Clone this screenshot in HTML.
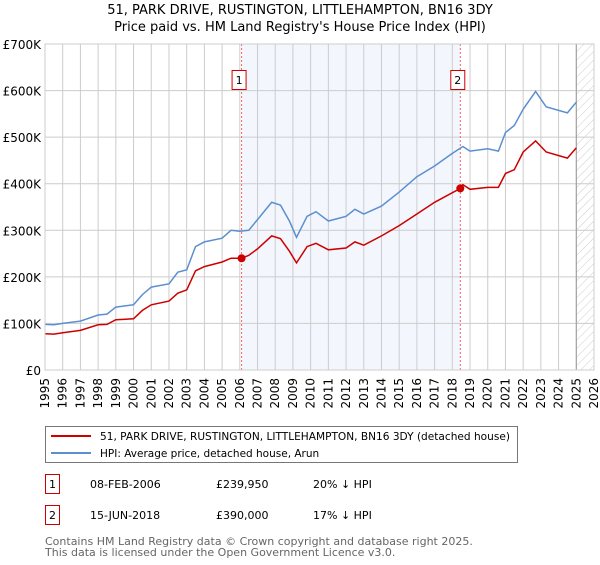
<!DOCTYPE html>
<html><head><meta charset="utf-8"><style>
body{margin:0;background:#fff;font-family:"Liberation Sans","DejaVu Sans",sans-serif;}
</style></head><body>
<svg width="600" height="560" xmlns="http://www.w3.org/2000/svg" font-family="DejaVu Sans, Liberation Sans, sans-serif">
<defs><pattern id="hatch" width="6" height="6" patternUnits="userSpaceOnUse" patternTransform="rotate(45)"><line x1="0" y1="0" x2="0" y2="6" stroke="#ccc" stroke-width="1"/></pattern></defs>
<text x="300" y="14" text-anchor="middle" font-size="13">51, PARK DRIVE, RUSTINGTON, LITTLEHAMPTON, BN16 3DY</text>
<text x="300" y="31" text-anchor="middle" font-size="13">Price paid vs. HM Land Registry's House Price Index (HPI)</text>
<g id="plot"></g>
<g>
<rect x="45.5" y="426.5" width="472" height="36" fill="#fff" stroke="#777"/>
<line x1="51" y1="436" x2="91" y2="436" stroke="#cc0000" stroke-width="2"/>
<text x="100" y="440" font-size="10.5" textLength="410" lengthAdjust="spacingAndGlyphs">51, PARK DRIVE, RUSTINGTON, LITTLEHAMPTON, BN16 3DY (detached house)</text>
<line x1="51" y1="453" x2="91" y2="453" stroke="#5b8fd0" stroke-width="2"/>
<text x="100" y="457" font-size="10.5">HPI: Average price, detached house, Arun</text>
</g>
<g font-size="11">
<rect x="45.5" y="474.5" width="14" height="19" fill="#fff" stroke="#cc0000"/><text x="52.5" y="488" text-anchor="middle">1</text>
<text x="90" y="488">08-FEB-2006</text><text x="216" y="488">£239,950</text><text x="313" y="488">20% ↓ HPI</text>
<rect x="45.5" y="505.5" width="14" height="19" fill="#fff" stroke="#cc0000"/><text x="52.5" y="519" text-anchor="middle">2</text>
<text x="90" y="519">15-JUN-2018</text><text x="216" y="519">£390,000</text><text x="313" y="519">17% ↓ HPI</text>
</g>
<text x="45" y="545" font-size="11" fill="#666">Contains HM Land Registry data © Crown copyright and database right 2025.</text>
<text x="45" y="556" font-size="11" fill="#666">This data is licensed under the Open Government Licence v3.0.</text>
</svg>
<script>
const hpiYears=[1995,1995.5,1996,1997,1998,1998.5,1999,2000,2000.5,2001,2002,2002.5,2003,2003.5,2004,2005,2005.5,2006,2006.5,2007,2007.8,2008.3,2008.8,2009.2,2009.8,2010.3,2011,2012,2012.5,2013,2014,2015,2016,2017,2018,2018.6,2019,2020,2020.6,2021,2021.5,2022,2022.7,2023.3,2024.5,2025];
const hpiValues=[98,97,100,105,118,120,135,140,162,178,185,210,215,265,275,283,300,298,300,323,360,354,320,285,330,340,320,330,345,335,352,382,415,438,465,480,470,475,470,510,525,560,598,565,552,575];
const paidYears=[1995,1995.5,1996,1997,1998,1998.5,1999,2000,2000.5,2001,2002,2002.5,2003,2003.5,2004,2005,2005.5,2006.1,2006.5,2007,2007.8,2008.3,2008.8,2009.2,2009.8,2010.3,2011,2012,2012.5,2013,2014,2015,2016,2017,2018.45,2018.6,2019,2020,2020.6,2021,2021.5,2022,2022.7,2023.3,2024.5,2025];
const paidValues=[78,77,80,85,97,98,108,110,128,140,148,165,172,213,222,232,240,240,246,260,288,282,255,230,265,272,258,262,275,268,288,310,335,360,390,398,388,392,392,422,430,468,492,468,455,477];
const sales=[{n:"1",year:2006.1,value:239.95},{n:"2",year:2018.45,value:390}];
const yTicks=[0,100,200,300,400,500,600,700];
const yTickLabels=["£0","£100K","£200K","£300K","£400K","£500K","£600K","£700K"];
const xStart=1995,xEnd=2026,forecastStart=2025.0;
const L=45,R=594,T=44,B=370;
const xs=y=>L+(y-xStart)/(xEnd-xStart)*(R-L);
const ys=v=>B-v/700*(B-T);
const NS="http://www.w3.org/2000/svg";
const g=document.getElementById('plot');
function mk(tag,attrs,parent){const e=document.createElementNS(NS,tag);for(const k in attrs)e.setAttribute(k,attrs[k]);(parent||g).appendChild(e);return e;}
let e=mk('rect',{x:xs(sales[0].year),y:T,width:xs(sales[1].year)-xs(sales[0].year),height:B-T,fill:'#eef3fc',opacity:0.7});


e=mk('rect',{x:xs(forecastStart),y:T,width:R-xs(forecastStart),height:B-T,fill:'url(#hatch)'});


for(let y=xStart;y<=xEnd;y++){
 e=mk('line',{x1:xs(y),x2:xs(y),y1:T,y2:B,stroke:'#ccc'});
 
 
 const t=mk('text',{x:0,y:0,'font-size':12,'text-anchor':'end',transform:`translate(${xs(y)+4},${B+8}) rotate(-90)`});
 t.textContent=y;
 
 
}
yTicks.forEach((v,i)=>{
 e=mk('line',{x1:L,x2:R,y1:ys(v),y2:ys(v),stroke:'#ccc'});
 
 
 const t=mk('text',{x:L-4,y:ys(v)+5,'font-size':12,'text-anchor':'end'});
 t.textContent=yTickLabels[i];
 
 
});
e=mk('line',{x1:xs(forecastStart),x2:xs(forecastStart),y1:T,y2:B,stroke:'#999'});


sales.forEach(s=>{
 e=mk('line',{x1:xs(s.year),x2:xs(s.year),y1:T,y2:B,stroke:'#ee6666','stroke-dasharray':'2,2'});
 
 
});
function path(xa,va,col,name){
 const d=xa.map((x,i)=>(i?'L':'M')+xs(x).toFixed(1)+','+ys(va[i]).toFixed(1)).join('');
 const p=mk('path',{d:d,fill:'none',stroke:col,'stroke-width':1.5});
 
 
}
path(hpiYears,hpiValues,'#5b8fd0','hpi-line');
path(paidYears,paidValues,'#cc0000','price-paid-line');
sales.forEach(s=>{
 e=mk('circle',{cx:xs(s.year),cy:ys(s.value),r:4,fill:'#cc0000'});
 
 
 e=mk('rect',{x:xs(s.year)-9.5,y:70.5,width:14,height:19,fill:'#fff',stroke:'#cc0000'});
 
 
 const t=mk('text',{x:xs(s.year)-2.5,y:84,'font-size':11,'text-anchor':'middle'});
 t.textContent=s.n;
 
 
});
e=mk('rect',{x:L,y:T,width:R-L,height:B-T,fill:'none',stroke:'#ccc'});


</script>
</body></html>
